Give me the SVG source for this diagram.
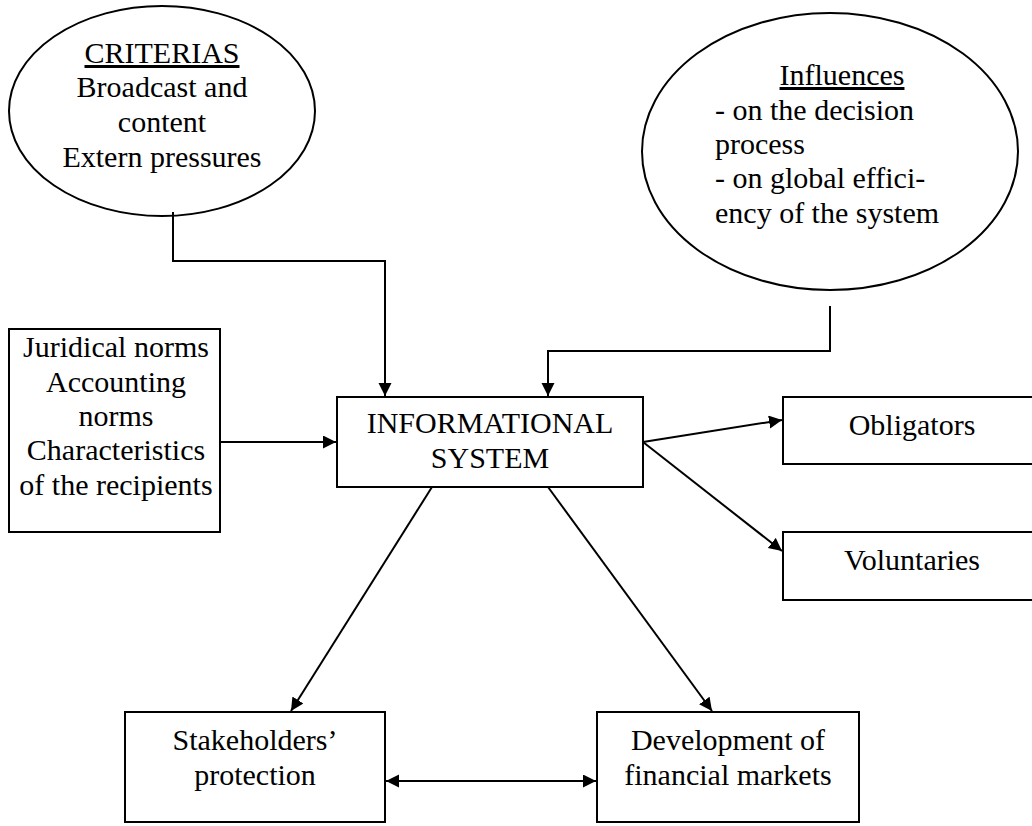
<svg xmlns="http://www.w3.org/2000/svg" width="1032" height="826" viewBox="0 0 1032 826">
<style>
text{font-family:'Liberation Serif','Tinos','Noto Serif','DejaVu Serif',serif;font-size:30px;fill:#000}
.c{text-anchor:middle}
.u{text-decoration:underline}
.shape{fill:#fff;stroke:#000;stroke-width:2}
.conn{fill:none;stroke:#000;stroke-width:2}
</style>
<defs>
<marker id="ah" markerUnits="userSpaceOnUse" markerWidth="14" markerHeight="14" refX="13" refY="6.5" orient="auto-start-reverse">
<path d="M0,0 L13,6.5 L0,13 z" fill="#000"/>
</marker>
</defs>
<rect width="1032" height="826" fill="#fff"/>
<g id="criterias">
<ellipse class="shape" cx="162" cy="111" rx="153" ry="105"/>
<text class="c u" x="162" y="63">CRITERIAS</text>
<text class="c" x="162" y="97">Broadcast and</text>
<text class="c" x="162" y="132">content</text>
<text class="c" x="162" y="167">Extern pressures</text>
</g>
<g id="influences">
<ellipse class="shape" cx="830" cy="151.5" rx="188" ry="138.5"/>
<text class="c u" x="842" y="85">Influences</text>
<text x="715" y="120">- on the decision</text>
<text x="715" y="154">process</text>
<text x="715" y="188">- on global effici-</text>
<text x="715" y="223">ency of the system</text>
</g>
<g id="norms">
<rect class="shape" x="9" y="329" width="211" height="203"/>
<text class="c" x="116" y="357">Juridical norms</text>
<text class="c" x="116" y="392">Accounting</text>
<text class="c" x="116" y="426">norms</text>
<text class="c" x="116" y="460">Characteristics</text>
<text class="c" x="116" y="495">of the recipients</text>
</g>
<g id="system">
<rect class="shape" x="337" y="397" width="306" height="90"/>
<text class="c" x="490" y="433">INFORMATIONAL</text>
<text class="c" x="490" y="468">SYSTEM</text>
</g>
<g id="obligators">
<rect class="shape" x="783" y="397" width="252" height="67"/>
<text class="c" x="912" y="435">Obligators</text>
</g>
<g id="voluntaries">
<rect class="shape" x="783" y="532" width="252" height="68"/>
<text class="c" x="912" y="570">Voluntaries</text>
</g>
<g id="stakeholders">
<rect class="shape" x="125" y="712" width="260" height="110"/>
<text class="c" x="255" y="750">Stakeholders’</text>
<text class="c" x="255" y="785">protection</text>
</g>
<g id="markets">
<rect class="shape" x="597" y="712" width="262" height="110"/>
<text class="c" x="728" y="750">Development of</text>
<text class="c" x="728" y="785">financial markets</text>
</g>
<g id="connectors">
<path class="conn" d="M173,212 V261 H385 V396" marker-end="url(#ah)"/>
<path class="conn" d="M830,306 V351 H548 V396" marker-end="url(#ah)"/>
<path class="conn" d="M220,442 H336" marker-end="url(#ah)"/>
<path class="conn" d="M643,442 L782,420" marker-end="url(#ah)"/>
<path class="conn" d="M643,442 L782,551" marker-end="url(#ah)"/>
<path class="conn" d="M432,487 L291,711" marker-end="url(#ah)"/>
<path class="conn" d="M548,487 L712,711" marker-end="url(#ah)"/>
<path class="conn" d="M386,781 H596" marker-start="url(#ah)" marker-end="url(#ah)"/>
</g>
</svg>
